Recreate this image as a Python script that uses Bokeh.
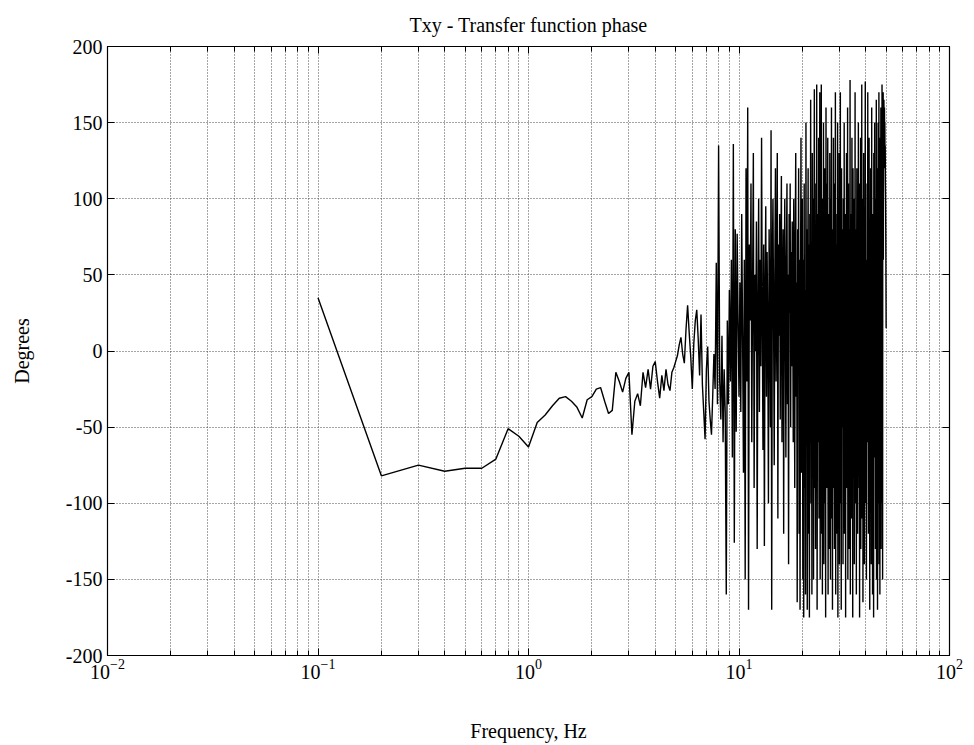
from bokeh.plotting import figure
from bokeh.models import (Range1d, FixedTicker, LogAxis, LinearAxis,
                          LogTickFormatter, CustomJSTickFormatter)
from bokeh.embed import file_html
from bokeh.resources import INLINE

# Transfer-function phase (degrees), one value every 0.1 Hz from 0.1 Hz to 50 Hz
phase = [
    35, -82, -75, -79, -77, -77, -71, -51, -56, -63,
    -47, -42, -36, -31, -30, -33, -37, -44, -32, -30,
    -25, -24, -33, -41, -39, -14, -20, -27, -18, -14,
    -55, -33, -28, -36, -14, -24, -12, -25, -10, -7,
    -20, -31, -16, -26, -12, -22, -26, -14, -11, -7,
    -3, 4, 9, -2, -8, 14, 30, 12, -4, -25,
    5, 20, 27, 8, -16, 24, -22, -40, -58, -12,
    3, -33, -45, -55, -30, -2, -25, 58, -35, 135,
    -20, -45, 10, -60, -12, -40, -160, 20, -35, 40,
    -20, 60, -70, 136, -126, 80, -53, 77, 20, -30,
    45, -40, 90, 10, -80, 60, -150, 120, -20, 160,
    -170, 70, 20, 110, -60, 40, 130, -90, 50, 0,
    85, -130, 30, 100, -40, 60, -10, 140, 20, -65,
    70, -128, 40, 95, -30, 65, 10, -100, 80, 30,
    -50, 145, -170, 60, 100, 20, -75, 50, 120, -20,
    40, 130, -110, 70, 10, 90, -45, 55, 115, -60,
    30, 80, -120, 45, 100, 15, -70, 60, 110, -35,
    50, -140, 90, 25, 110, -50, 65, -10, 85, 30,
    -60, 100, 20, -90, 70, 130, -30, 45, -165, 80,
    10, 120, -120, 60, -170, 35, 140, -80, 20, 100,
    -150, 60, -175, 110, -90, 40, -160, 150, -40, 80,
    -170, 20, 120, -120, 70, -175, 90, -30, 165, -100,
    50, -160, 130, -20, 100, -150, 60, 172, -90, 30,
    -130, 110, -40, 175, -170, 20, 90, -60, 140, -110,
    40, 170, -150, 80, -10, 175, -120, 60, -160, 100,
    -50, 150, -140, 30, 120, -100, 70, -175, 160, 0,
    -90, 110, -30, 140, -160, 50, -70, 90, -130, 130,
    20, -150, 100, -40, 160, -110, 60, -170, 80, -20,
    140, -90, 40, -130, 110, -50, 170, -160, 70, 10,
    -120, 90, -60, 150, -175, 30, 100, -80, 130, -140,
    60, -30, 170, -100, 20, -170, 120, -50, 80, -10,
    40, -140, 100, 10, -60, 150, -120, 30, -40, 90,
    -175, 70, -20, 130, -90, 50, -10, 160, -150, 0,
    110, -70, 30, -130, 80, -30, 178, -160, 40, -20,
    90, -110, 20, 140, -60, 10, -175, 120, -40, 60,
    -20, 100, -140, 30, -50, 170, -100, 50, -10, 80,
    -160, 40, 120, -30, 10, -120, 90, -60, 150, -20,
    30, -90, 60, -175, 110, 0, -40, 140, -130, 20,
    70, -50, 175, -110, 40, -20, 100, -165, 50, -30,
    130, -80, 10, -140, 90, -40, 60, 177, -100, 0,
    -20, 60, -150, 20, -30, 110, -10, -60, 170, -40,
    0, -120, 40, -20, 140, -50, 10, -170, 80, -30,
    -10, 120, -40, 30, -140, 0, 160, -60, -20, 50,
    -160, 20, -30, 90, -10, -175, 130, -40, 10, -70,
    150, -20, -50, 40, -130, 100, 0, -30, 165, -150,
    20, -60, 120, -10, -170, 60, -30, 150, -100, 40,
    -20, 170, -140, 80, -40, 120, -160, 30, 140, -60,
    100, 160, -130, 120, 60, 150, -100, 175, 90, 130,
    -150, 140, 110, 170, 60, 150, 130, 165, 120, 145,
    160, 140, 150, 125, 135, 110, 100, 80, 50, 15,
]
freq = [round(0.1 * (i + 1), 1) for i in range(len(phase))]

y_ticks = [-200, -150, -100, -50, 0, 50, 100, 150, 200]
y_labels = {v: str(v) for v in y_ticks}
x_major = [0.01, 0.1, 1, 10, 100]
x_minor = [m * 10.0 ** e for e in (-2, -1, 0, 1) for m in range(2, 10)]

FONT = "Liberation Serif"
GRID = "#4a4a4a"

p = figure(width=974, height=745, x_axis_type="log",
           x_range=Range1d(0.01, 100), y_range=Range1d(-200, 200),
           output_backend="svg", toolbar_location=None,
           min_border_left=107, min_border_right=25,
           min_border_top=45, min_border_bottom=90,
           background_fill_color="white", border_fill_color="white")

p.title.text = "Txy - Transfer function phase"
p.title.text_font = FONT
p.title.text_font_size = "20px"
p.title.text_font_style = "normal"
p.title.text_color = "black"
p.title.align = "center"
p.title.standoff = 22

p.line(freq, phase, line_color="black", line_width=1.4)

xticker = FixedTicker(ticks=x_major, minor_ticks=x_minor)
yticker = FixedTicker(ticks=y_ticks, minor_ticks=[])
blank = CustomJSTickFormatter(code="return ''")

def style(ax):
    ax.axis_line_color = "black"
    ax.major_tick_in = 7
    ax.major_tick_out = 0
    ax.minor_tick_in = 5
    ax.minor_tick_out = 0
    ax.major_tick_line_color = "black"
    ax.minor_tick_line_color = "black"
    ax.major_label_text_font = FONT
    ax.major_label_text_font_size = "20px"
    ax.major_label_text_color = "black"
    ax.axis_label_text_font = FONT
    ax.axis_label_text_font_size = "20px"
    ax.axis_label_text_font_style = "normal"
    ax.axis_label_text_color = "black"

xa = p.xaxis[0]
xa.ticker = xticker
xa.formatter = LogTickFormatter()
xa.axis_label = "Frequency, Hz"
xa.axis_label_standoff = 38
xa.major_label_standoff = 3
style(xa)

ya = p.yaxis[0]
ya.ticker = yticker
ya.major_label_overrides = y_labels
ya.axis_label = "Degrees"
ya.axis_label_standoff = 30
ya.major_label_standoff = 5
style(ya)
ya.minor_tick_in = 0

top = LogAxis(ticker=xticker, formatter=blank)
style(top)
top.major_label_text_font_size = "8px"
top.major_label_standoff = 0
p.add_layout(top, "above")

right = LinearAxis(ticker=yticker, formatter=blank)
style(right)
right.major_label_text_font_size = "8px"
right.minor_tick_in = 0
right.major_label_standoff = 0
p.add_layout(right, "right")

p.xgrid.ticker = xticker
p.ygrid.ticker = yticker
for g in (p.xgrid[0], p.ygrid[0]):
    g.grid_line_color = GRID
    g.grid_line_dash = "1 2"
    g.grid_line_width = 1
p.xgrid[0].minor_grid_line_color = GRID
p.xgrid[0].minor_grid_line_dash = "1 2"
p.xgrid[0].minor_grid_line_width = 1

p.outline_line_color = "black"
p.outline_line_width = 1.2

open("out.html", "w").write(file_html(p, INLINE))
